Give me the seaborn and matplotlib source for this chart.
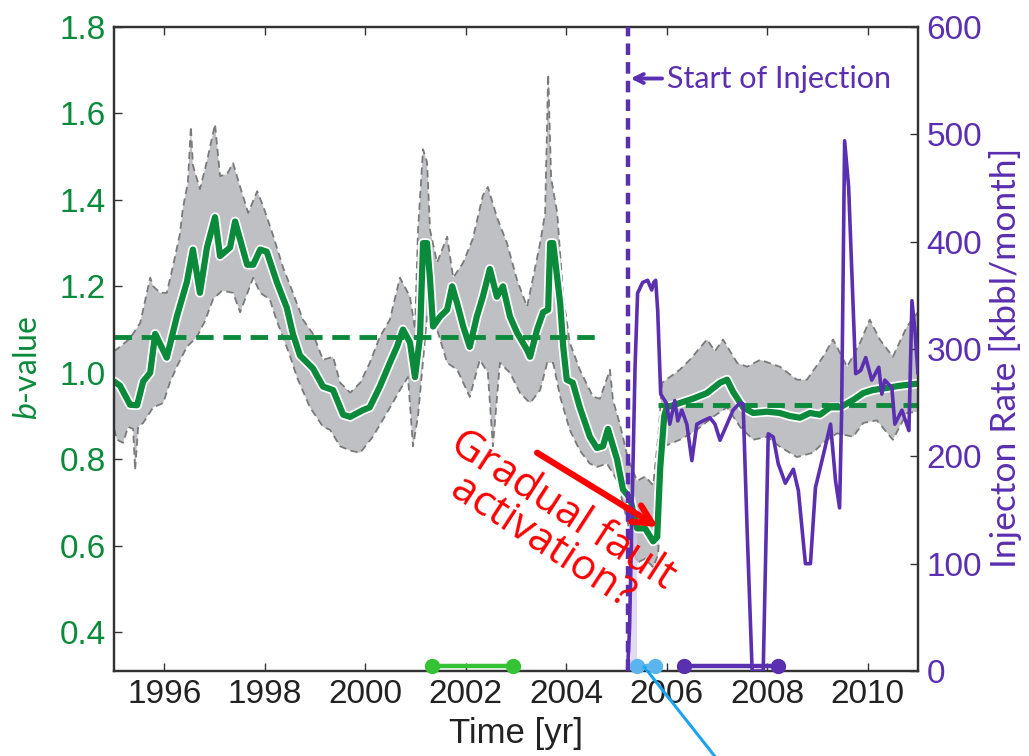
import numpy as np
import pandas as pd
import matplotlib
matplotlib.use("Agg")
import matplotlib.pyplot as plt
import matplotlib.patheffects as pe
import seaborn as sns

# ---- b-value (smoothed) ----
b_years = [1995.00, 1995.12, 1995.32, 1995.46, 1995.58, 1995.72, 1995.82, 1996.05, 1996.25,
           1996.45, 1996.57, 1996.71, 1996.85, 1997.01, 1997.11, 1997.31, 1997.41, 1997.65,
           1997.77, 1997.91, 1998.04, 1998.24, 1998.44, 1998.56, 1998.70, 1998.96, 1999.16,
           1999.36, 1999.56, 1999.70, 1999.96, 2000.09, 2000.29, 2000.49, 2000.63, 2000.75,
           2000.89, 2000.99, 2001.09, 2001.15, 2001.23, 2001.29, 2001.35, 2001.49, 2001.63,
           2001.73, 2001.83, 2001.95, 2002.08, 2002.22, 2002.34, 2002.48, 2002.62, 2002.74,
           2002.88, 2003.02, 2003.22, 2003.28, 2003.42, 2003.54, 2003.64, 2003.68, 2003.74,
           2003.88, 2003.94, 2004.01, 2004.13, 2004.27, 2004.47, 2004.61, 2004.73, 2004.83,
           2005.01, 2005.13, 2005.27, 2005.41, 2005.57, 2005.73, 2005.81, 2005.87, 2005.95,
           2006.00, 2006.26, 2006.52, 2006.80, 2007.06, 2007.20, 2007.32, 2007.52, 2007.72,
           2008.00, 2008.25, 2008.45, 2008.65, 2008.85, 2009.05, 2009.25, 2009.45, 2009.71,
           2009.91, 2010.10, 2010.38, 2010.64, 2011.00]
b_value = [0.98, 0.97, 0.926, 0.925, 0.98, 1.00, 1.09, 1.035, 1.13,
           1.21, 1.285, 1.185, 1.29, 1.36, 1.27, 1.29, 1.35, 1.25,
           1.25, 1.285, 1.28, 1.21, 1.15, 1.09, 1.04, 1.01, 0.968,
           0.96, 0.903, 0.898, 0.914, 0.92, 0.968, 1.023, 1.06, 1.10,
           1.07, 0.99, 1.083, 1.30, 1.30, 1.215, 1.107, 1.13, 1.146,
           1.20, 1.16, 1.107, 1.06, 1.13, 1.176, 1.24, 1.176, 1.20,
           1.13, 1.093, 1.053, 1.037, 1.10, 1.14, 1.146, 1.30, 1.30,
           1.16, 1.06, 0.984, 0.977, 0.92, 0.852, 0.826, 0.83, 0.87,
           0.80, 0.73, 0.71, 0.64, 0.64, 0.61, 0.62, 0.78, 0.90,
           0.92, 0.93, 0.94, 0.953, 0.977, 0.984, 0.956, 0.92, 0.907,
           0.91, 0.907, 0.90, 0.896, 0.907, 0.903, 0.92, 0.92, 0.937,
           0.953, 0.96, 0.965, 0.97, 0.975]

# ---- uncertainty band ----
upper_years = [1995.00, 1995.12, 1995.32, 1995.52, 1995.72, 1995.78, 1995.92, 1996.05, 1996.17,
               1996.31, 1996.37, 1996.47, 1996.53, 1996.57, 1996.71, 1996.85, 1997.01, 1997.11,
               1997.25, 1997.37, 1997.51, 1997.67, 1997.85, 1997.97, 1998.16, 1998.36, 1998.56,
               1998.76, 1998.96, 1999.16, 1999.36, 1999.50, 1999.70, 1999.90, 2000.09, 2000.29,
               2000.49, 2000.69, 2000.89, 2000.99, 2001.05, 2001.15, 2001.23, 2001.29, 2001.43,
               2001.63, 2001.75, 2001.95, 2002.14, 2002.34, 2002.44, 2002.62, 2002.82, 2003.02,
               2003.22, 2003.34, 2003.48, 2003.58, 2003.64, 2003.70, 2003.82, 2003.94, 2004.07,
               2004.27, 2004.53, 2004.67, 2004.87, 2004.93, 2005.07, 2005.23, 2005.41, 2005.57,
               2005.73, 2005.83, 2005.91, 2006.06, 2006.26, 2006.46, 2006.80, 2006.96, 2007.12,
               2007.40, 2007.60, 2007.86, 2008.25, 2008.59, 2008.79, 2009.11, 2009.31, 2009.59,
               2009.85, 2010.04, 2010.24, 2010.50, 2010.78, 2011.00]
upper_b = [1.05, 1.06, 1.08, 1.115, 1.22, 1.20, 1.185, 1.185, 1.245,
           1.32, 1.38, 1.44, 1.57, 1.48, 1.425, 1.49, 1.575, 1.455,
           1.46, 1.485, 1.43, 1.37, 1.42, 1.385, 1.32, 1.245, 1.185,
           1.123, 1.09, 1.03, 1.037, 0.977, 0.954, 0.977, 1.023, 1.083,
           1.123, 1.22, 1.176, 1.10, 1.33, 1.517, 1.487, 1.33, 1.255,
           1.315, 1.22, 1.255, 1.31, 1.41, 1.43, 1.36, 1.30, 1.215,
           1.153, 1.22, 1.30, 1.37, 1.69, 1.45, 1.37, 1.176, 1.07,
           1.007, 0.945, 0.94, 1.007, 0.937, 0.88, 0.80, 0.75, 0.76,
           0.74, 0.85, 0.977, 0.99, 1.007, 1.03, 1.077, 1.05, 1.077,
           1.023, 1.014, 1.03, 1.014, 0.984, 0.984, 1.037, 1.077, 1.014,
           1.07, 1.123, 1.077, 1.037, 1.107, 1.14]

lower_years = [1995.00, 1995.06, 1995.18, 1995.28, 1995.38, 1995.42, 1995.48, 1995.58, 1995.78,
               1995.98, 1996.11, 1996.25, 1996.45, 1996.65, 1996.81, 1996.97, 1997.15, 1997.37,
               1997.51, 1997.77, 1997.91, 1998.10, 1998.24, 1998.36, 1998.50, 1998.64, 1998.90,
               1999.16, 1999.30, 1999.50, 1999.70, 1999.90, 2000.15, 2000.43, 2000.69, 2000.85,
               2000.95, 2001.05, 2001.23, 2001.43, 2001.63, 2001.83, 2001.95, 2002.08, 2002.28,
               2002.44, 2002.54, 2002.68, 2002.88, 2003.08, 2003.28, 2003.48, 2003.62, 2003.74,
               2003.88, 2004.07, 2004.27, 2004.47, 2004.61, 2004.81, 2005.01, 2005.21, 2005.41,
               2005.57, 2005.73, 2005.83, 2005.93, 2006.26, 2006.60, 2006.92, 2007.20, 2007.46,
               2007.72, 2008.00, 2008.25, 2008.59, 2008.91, 2009.11, 2009.39, 2009.71, 2009.91,
               2010.18, 2010.50, 2010.78, 2011.00]
lower_b = [0.87, 0.845, 0.838, 0.875, 0.87, 0.775, 0.875, 0.884, 0.92,
           0.93, 0.977, 1.014, 1.06, 1.083, 1.12, 1.17, 1.19, 1.185,
           1.14, 1.22, 1.185, 1.17, 1.12, 1.083, 1.04, 0.99, 0.92,
           0.875, 0.868, 0.83, 0.82, 0.815, 0.852, 0.907, 0.96, 0.99,
           0.83, 0.90, 1.13, 1.10, 1.023, 1.007, 0.977, 0.944, 1.03,
           1.00, 0.83, 1.023, 1.00, 0.953, 0.93, 0.96, 1.023, 1.023,
           0.944, 0.868, 0.82, 0.79, 0.782, 0.79, 0.752, 0.66, 0.56,
           0.57, 0.55, 0.58, 0.829, 0.845, 0.868, 0.898, 0.92, 0.875,
           0.845, 0.852, 0.829, 0.805, 0.815, 0.838, 0.86, 0.852, 0.884,
           0.89, 0.845, 0.907, 0.91]

# ---- mean b-value before / after injection ----
mean_before = 1.083
mean_before_span = (1995.0, 2004.63)
mean_after = 0.926
mean_after_span = (2005.83, 2011.0)

# ---- injection rate [kbbl/month] ----
inj_years = [2005.22, 2005.26, 2005.37, 2005.42, 2005.52, 2005.62, 2005.70, 2005.74, 2005.78,
             2005.82, 2005.88, 2006.00, 2006.06, 2006.16, 2006.22, 2006.30, 2006.40, 2006.50,
             2006.60, 2006.72, 2006.86, 2006.96, 2007.06, 2007.20, 2007.32, 2007.46, 2007.52,
             2007.60, 2007.70, 2007.92, 2008.02, 2008.12, 2008.22, 2008.36, 2008.52, 2008.62,
             2008.76, 2008.86, 2008.96, 2009.12, 2009.26, 2009.36, 2009.44, 2009.48, 2009.54,
             2009.62, 2009.76, 2009.86, 2009.96, 2010.08, 2010.22, 2010.28, 2010.34, 2010.48,
             2010.54, 2010.68, 2010.82, 2010.88, 2010.94, 2011.00]
inj_rate = [0, 40, 284, 352, 362, 364, 355, 362, 364,
            336, 258, 249, 230, 252, 233, 243, 230, 196,
            230, 233, 236, 230, 215, 230, 243, 250, 249,
            131, 0, 0, 221, 218, 193, 175, 188, 168,
            100, 100, 171, 202, 230, 177, 152, 240, 494,
            451, 277, 280, 292, 271, 283, 258, 271, 264,
            230, 243, 224, 345, 317, 277]

injection_start = 2005.22

# ---- time windows marked along the time axis ----
windows = {
    "green": (2001.33, 2002.94),
    "blue": (2005.41, 2005.77),
    "purple": (2006.34, 2008.21),
}

x_ticks = [1996, 1998, 2000, 2002, 2004, 2006, 2008, 2010]
b_ticks = [0.4, 0.6, 0.8, 1.0, 1.2, 1.4, 1.6, 1.8]
rate_ticks = [0, 100, 200, 300, 400, 500, 600]

GREEN = "#0b8a3b"
PURPLE = "#5a2fb0"
GRAY_FILL = "#bfc0c4"
GRAY_EDGE = "#7a7a7a"
SPINE = "#333333"

sns.set_theme(style="ticks")
plt.rcParams["font.family"] = ["Liberation Sans", "DejaVu Sans"]
plt.rcParams["mathtext.fontset"] = "custom"
plt.rcParams["mathtext.it"] = "Lato:italic"
plt.rcParams["mathtext.rm"] = "Lato"

fig = plt.figure(figsize=(10.29, 7.56), dpi=100)
ax = fig.add_axes([0.1108, 0.1124, 0.7813, 0.8519])
ax2 = ax.twinx()

# uncertainty band as a closed polygon with dashed edges
poly_x = list(upper_years) + list(lower_years[::-1])
poly_y = list(upper_b) + list(lower_b[::-1])
ax.fill(poly_x, poly_y, color=GRAY_FILL, lw=0, zorder=1)
ax.plot(upper_years, upper_b, color=GRAY_EDGE, lw=1.3, ls=(0, (4, 2.5)), zorder=2)
ax.plot(lower_years, lower_b, color=GRAY_EDGE, lw=1.3, ls=(0, (4, 2.5)), zorder=2)

# pale shading at the onset of injection
ax.fill_between([2005.27, 2005.40], [0.33, 0.33], [0.66, 0.62],
                color="#d6cbef", alpha=0.7, lw=0, zorder=3)

# smoothed b-value
df_b = pd.DataFrame({"year": b_years, "b": b_value})
sns.lineplot(data=df_b, x="year", y="b", ax=ax, color=GREEN, lw=4.5,
             sort=False, errorbar=None, zorder=4,
             path_effects=[pe.Stroke(linewidth=7, foreground="white"), pe.Normal()])

# mean levels
ax.plot(mean_before_span, [mean_before] * 2, color=GREEN, lw=3.5,
        ls=(0, (3.6, 2.0)), zorder=5)
ax.plot(mean_after_span, [mean_after] * 2, color=GREEN, lw=3.5,
        ls=(0, (3.6, 2.0)), zorder=5)

ax.set_xlim(1995, 2011)
ax.set_ylim(0.31, 1.8)
ax.set_xticks(x_ticks)
ax.set_yticks(b_ticks)
ax.set_yticklabels([f"{v:.1f}" for v in b_ticks])
ax.set_xlabel("")
ax.set_ylabel("")

# injection rate
df_inj = pd.DataFrame({"year": inj_years, "rate": inj_rate})
sns.lineplot(data=df_inj, x="year", y="rate", ax=ax2, color=PURPLE, lw=2.6,
             sort=False, errorbar=None, zorder=3)
ax2.axvline(injection_start, color=PURPLE, lw=3.2, ls=(0, (2.6, 1.6)), zorder=4)
ax2.set_ylim(0, 600)
ax2.set_yticks(rate_ticks)
ax2.set_xlabel("")
ax2.set_ylabel("")

ax2.annotate("Start of Injection", xy=(2005.28, 552), xytext=(2006.0, 552),
             ha="left", va="center", color=PURPLE, fontsize=22, family="Lato",
             arrowprops=dict(arrowstyle="->", color=PURPLE, lw=2.8,
                             shrinkA=1, shrinkB=0, mutation_scale=16))

# time windows along the bottom
win_colors = {"green": "#35c235", "blue": "#5ab4ee", "purple": PURPLE}
for key, (x0, x1) in windows.items():
    ax2.plot([x0, x1], [5, 5], color=win_colors[key], lw=3.2, marker="o",
             markersize=10, clip_on=False, zorder=6)
ax2.plot([2005.55, 2007.0], [4, -82], color="#1aa3f0", lw=2.2,
         clip_on=False, zorder=6)

# annotation
ax2.annotate("", xy=(2005.83, 0.643), xycoords=ax.transData,
             xytext=(2003.42, 0.815), textcoords=ax.transData,
             arrowprops=dict(arrowstyle="->", color="red", lw=4.5,
                             mutation_scale=34, shrinkA=0, shrinkB=0), zorder=7)
ax2.text(2003.72, 0.645, "Gradual fault\nactivation?", transform=ax.transData,
         color="red", fontsize=30.5, family="Open Sans", rotation=-33,
         rotation_mode="anchor", ha="center", va="center",
         linespacing=0.9, zorder=7)

# axes styling
for a in (ax, ax2):
    for s in a.spines.values():
        s.set_color(SPINE)
        s.set_linewidth(1.6)
ax.tick_params(axis="x", direction="in", top=True, bottom=True, length=6,
               width=1.0, color=SPINE, labelsize=24, labelcolor="#222222", pad=6)
ax.tick_params(axis="y", direction="in", left=True, right=False, length=6,
               width=1.0, color=SPINE, labelsize=24, labelcolor=GREEN, pad=6)
ax2.tick_params(axis="y", direction="in", right=True, length=6, width=1.0,
                color=SPINE, labelsize=24, labelcolor=PURPLE, pad=6)

fig.text(28 / 1029, 1 - 368 / 756, "$b$-value", rotation=90, ha="center",
         va="center", color=GREEN, fontsize=23, family="Lato")
fig.text(1005 / 1029, 1 - 358 / 756, "Injecton Rate [kbbl/month]", rotation=90,
         ha="center", va="center", color=PURPLE, fontsize=25.5, family="Lato")
fig.text(516 / 1029, 1 - 733 / 756, "Time [yr]", ha="center", va="center",
         color="#222222", fontsize=25)

fig.savefig("out.png", dpi=100)
